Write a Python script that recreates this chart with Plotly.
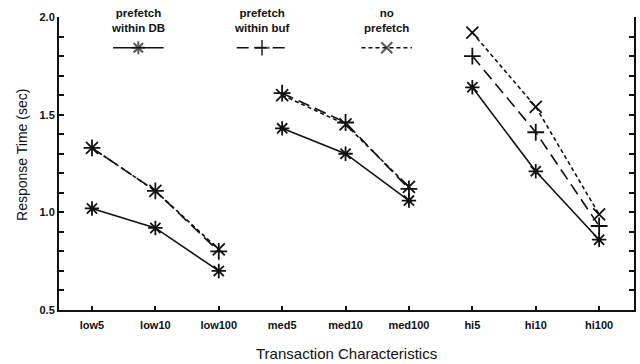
import plotly.graph_objects as go

# Transaction classes on the x axis
categories = ["low5", "low10", "low100", "med5", "med10", "med100", "hi5", "hi10", "hi100"]
# Groups of categories that are joined by lines (low / med / hi)
groups = [(0, 3), (3, 6), (6, 9)]

# Response time (sec) per prefetch strategy
within_db = [1.02, 0.92, 0.70, 1.43, 1.30, 1.06, 1.64, 1.21, 0.86]
within_buf = [1.33, 1.11, 0.80, 1.61, 1.46, 1.12, 1.80, 1.41, 0.93]
no_prefetch = [1.33, 1.11, 0.81, 1.60, 1.45, 1.13, 1.92, 1.54, 0.99]

# y ticks every 0.1, labelled every 0.5
y_tick_values = [0.5, 0.6, 0.7, 0.8, 0.9, 1.0, 1.1, 1.2, 1.3, 1.4, 1.5, 1.6, 1.7, 1.8, 1.9, 2.0]
y_tick_labels = ["0.5", "", "", "", "", "1.0", "", "", "", "", "1.5", "", "", "", "", "2.0"]

series = [
    ("prefetch<br>within DB", within_db, "solid", "asterisk-open"),
    ("prefetch<br>within buf", within_buf, "12px,6px", "cross-thin-open"),
    ("no<br>prefetch", no_prefetch, "4px,3px", "x-thin-open"),
]

FONT = "Liberation Sans, Arial, sans-serif"
INK = "#111111"

fig = go.Figure()

for name, values, dash, symbol in series:
    for a, b in groups:
        fig.add_trace(go.Scatter(
            x=categories[a:b], y=values[a:b],
            mode="lines+markers",
            line=dict(color=INK, width=1.6, dash=dash),
            marker=dict(symbol=symbol, size=12, color=INK, line=dict(color=INK, width=1.8)),
            showlegend=False, hoverinfo="skip",
        ))

# Hand-built key above the curves: label on top, line sample with marker below
key_centres = [0.138, 0.353, 0.570]
key_half = 0.044
key_y = 0.895
for (name, values, dash, symbol), cx in zip(series, key_centres):
    fig.add_trace(go.Scatter(
        x=[cx - key_half, cx, cx + key_half], y=[key_y] * 3,
        xaxis="x2", yaxis="y2", mode="lines+markers",
        line=dict(color=INK, width=1.6, dash=dash),
        marker=dict(symbol=symbol, size=[0, 11, 0], color=INK, line=dict(color=INK, width=2)),
        showlegend=False, hoverinfo="skip",
    ))
    fig.add_annotation(
        x=cx, y=key_y + 0.04, xref="paper", yref="paper",
        text="<b>" + name + "</b>", showarrow=False,
        xanchor="center", yanchor="bottom", align="center",
        font=dict(family=FONT, size=11.5, color=INK),
    )

fig.add_annotation(
    x=0.5, y=-0.147, xref="paper", yref="paper", yanchor="middle",
    text="Transaction Characteristics", showarrow=False,
    font=dict(family=FONT, size=15, color=INK),
)
fig.add_annotation(
    x=-0.064, y=0.53, xref="paper", yref="paper", textangle=-90,
    xanchor="center", yanchor="middle",
    text="Response Time (sec)", showarrow=False,
    font=dict(family=FONT, size=14, color=INK),
)

fig.update_layout(
    width=640, height=364,
    margin=dict(l=59, r=4, t=17, b=54),
    paper_bgcolor="white", plot_bgcolor="white",
    font=dict(family=FONT, color=INK),
    xaxis=dict(
        type="category", categoryorder="array", categoryarray=categories,
        range=[-0.52, 8.55],
        showline=True, linecolor=INK, linewidth=2,
        ticks="inside", ticklen=4, tickwidth=1.5, tickcolor=INK,
        showgrid=False, zeroline=False,
        tickfont=dict(family=FONT, size=11, color=INK, weight="bold"),
        ticklabelstandoff=4,
    ),
    yaxis=dict(
        range=[0.5, 2.0],
        tickmode="array", tickvals=y_tick_values, ticktext=y_tick_labels,
        showline=True, linecolor=INK, linewidth=2, mirror="allticks",
        ticks="inside", ticklen=5, tickwidth=1.5, tickcolor=INK,
        showgrid=False, zeroline=False,
        tickfont=dict(family=FONT, size=11, color=INK, weight="bold"),
    ),
    xaxis2=dict(domain=[0, 1], range=[0, 1], overlaying="x", visible=False, fixedrange=True),
    yaxis2=dict(domain=[0, 1], range=[0, 1], overlaying="y", visible=False, fixedrange=True),
)

fig.write_html("out.html")
